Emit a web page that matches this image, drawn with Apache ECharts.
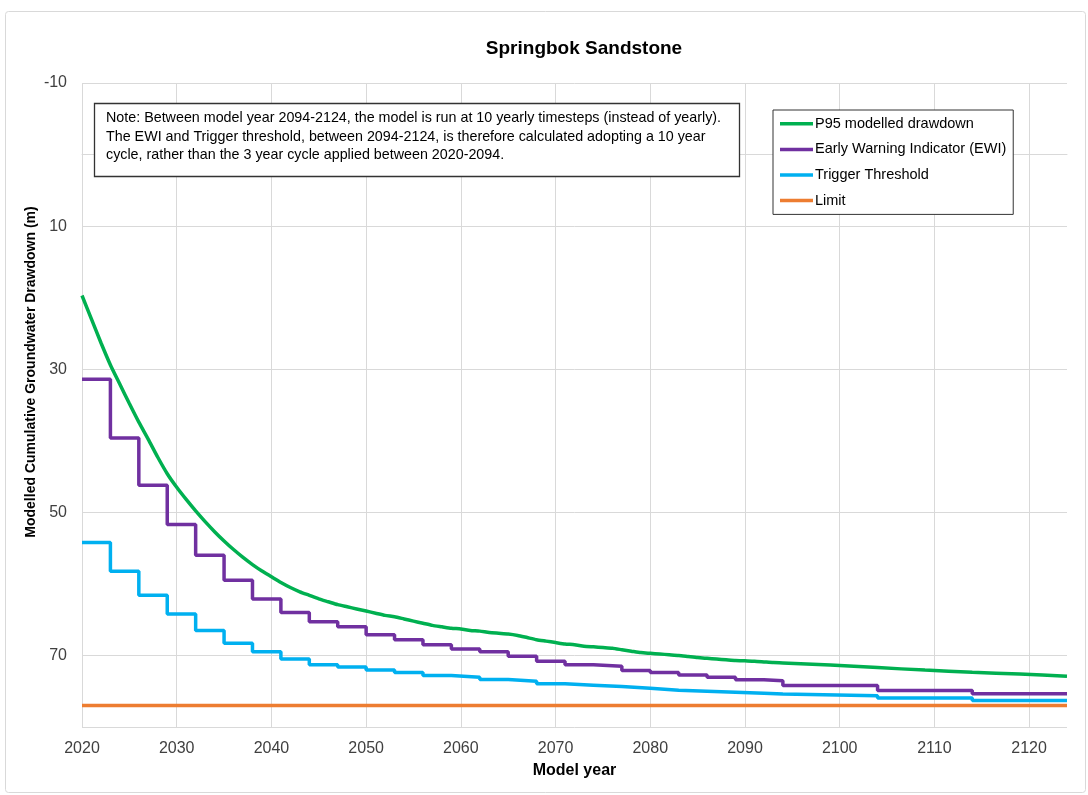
<!DOCTYPE html>
<html>
<head>
<meta charset="utf-8">
<script src="https://cdn.jsdelivr.net/npm/echarts@6/dist/echarts.min.js"></script>
<style>
html,body{margin:0;padding:0;background:#fff;}
#c{width:1088px;height:795px;}
</style>
</head>
<body>
<div id="c"></div>
<script>
// ---- Data ----
const p95Years = [2020,2021,2022,2023,2024,2025,2026,2027,2028,2029,2030,2031,2032,2033,2034,2035,2036,2037,2038,2039,2040,2041,2042,2043,2044,2045,2046,2047,2048,2049,2050,2051,2052,2053,2054,2055,2056,2057,2058,2059,2060,2061,2062,2063,2064,2065,2066,2067,2068,2069,2070,2071,2072,2073,2074,2075,2076,2077,2078,2079,2080,2081,2082,2083,2084,2085,2086,2087,2088,2089,2090,2091,2092,2093,2094,2099,2104,2109,2114,2119,2124];
const p95Values = [19.7,23.0,26.3,29.4,32.1,34.8,37.4,39.8,42.3,44.6,46.5,48.2,49.8,51.3,52.7,54.0,55.2,56.3,57.3,58.2,59.0,59.8,60.5,61.1,61.6,62.1,62.5,62.9,63.2,63.5,63.8,64.1,64.4,64.6,64.9,65.2,65.5,65.8,66.0,66.2,66.3,66.5,66.6,66.8,66.9,67.0,67.2,67.5,67.8,68.0,68.2,68.4,68.5,68.7,68.8,68.9,69.0,69.2,69.4,69.6,69.7,69.8,69.9,70.0,70.15,70.3,70.4,70.5,70.6,70.7,70.75,70.8,70.9,71.0,71.05,71.35,71.7,72.05,72.35,72.6,72.9];

const ewiYears = [2020,2023,2026,2029,2032,2035,2038,2041,2044,2047,2050,2053,2056,2059,2062,2065,2068,2071,2074,2077,2080,2083,2086,2089,2092,2094,2104,2114,2124];
const ewiValues = [31.4,39.6,46.2,51.7,56.0,59.5,62.1,64.0,65.3,66.0,67.1,67.8,68.5,69.1,69.5,70.1,70.8,71.3,71.5,72.1,72.4,72.75,73.05,73.4,73.55,74.2,74.9,75.35,75.35];

const trigYears = [2020,2023,2026,2029,2032,2035,2038,2041,2044,2047,2050,2053,2056,2059,2062,2065,2068,2071,2074,2077,2080,2083,2086,2089,2092,2094,2104,2114,2124];
const trigValues = [54.2,58.25,61.6,64.2,66.5,68.3,69.5,70.5,71.3,71.6,72.05,72.4,72.8,73.05,73.35,73.6,73.95,74.15,74.35,74.6,74.85,75.0,75.15,75.3,75.4,75.65,75.95,76.3,76.3];

const limitYears = [2020,2124];
const limitValues = [77.0,77.0];

const seriesNames = ['P95 modelled drawdown','Early Warning Indicator (EWI)','Trigger Threshold','Limit'];
const seriesColors = ['#00b050','#7030a0','#00b0f0','#ed7d31'];
const yTickLabels = [-10,10,30,50,70];
const noteLines = [
  'Note: Between model year 2094-2124, the model is run at 10 yearly timesteps (instead of yearly).',
  'The EWI and Trigger threshold, between 2094-2124, is therefore calculated adopting a 10 year',
  'cycle, rather than the 3 year cycle applied between 2020-2094.'
];

const zip = (xs, ys) => xs.map((x, i) => [x, ys[i]]);

const chart = echarts.init(document.getElementById('c'), null, {renderer: 'canvas'});
const font = '"Liberation Sans", Arial, sans-serif';

chart.setOption({
  backgroundColor: '#fff',
  animation: false,
  textStyle: {fontFamily: font},
  title: {
    text: 'Springbok Sandstone',
    left: 579,
    textAlign: 'center',
    top: 34,
    textStyle: {fontFamily: font, fontSize: 19, fontWeight: 'bold', color: '#000'}
  },
  grid: {left: 82, right: 21, top: 83, bottom: 68, containLabel: false},
  legend: {
    orient: 'vertical',
    left: 773,
    top: 110,
    padding: [1, 7, 1, 7],
    itemGap: 0,
    itemWidth: 33,
    itemHeight: 3.5,
    icon: 'rect',
    borderColor: '#333',
    borderWidth: 1,
    backgroundColor: '#fff',
    textStyle: {fontFamily: font, fontSize: 14.5, lineHeight: 25.6, color: '#000', padding: [0,0,0,-3]},
    data: seriesNames
  },
  xAxis: {
    type: 'value',
    min: 2020,
    max: 2124,
    interval: 10,
    name: 'Model year',
    nameLocation: 'middle',
    nameGap: 36,
    nameTextStyle: {fontFamily: font, fontSize: 16, fontWeight: 'bold', color: '#000'},
    axisLine: {show: true, lineStyle: {color: '#d9d9d9', width: 1}},
    axisTick: {show: false},
    axisLabel: {showMaxLabel: false, fontFamily: font, fontSize: 16, color: '#404040', margin: 14,
      formatter: v => String(v)},
    splitLine: {show: true, showMaxLine: false, lineStyle: {color: '#d9d9d9', width: 1}}
  },
  yAxis: {
    type: 'value',
    inverse: true,
    min: -10,
    max: 80,
    interval: 20,
    axisLine: {show: false},
    axisTick: {show: false},
    axisLabel: {showMaxLabel: false, fontFamily: font, fontSize: 16, color: '#404040', margin: 15,
      formatter: v => (yTickLabels.indexOf(v) >= 0 ? String(v) : '')},
    splitLine: {show: true, lineStyle: {color: '#d9d9d9', width: 1}}
  },
  series: [
    {name: seriesNames[0], type: 'line', data: zip(p95Years, p95Values), symbol: 'none', smooth: 0.2,
      lineStyle: {color: seriesColors[0], width: 3.5}, itemStyle: {color: seriesColors[0]}, z: 5},
    {name: seriesNames[1], type: 'line', step: 'end', data: zip(ewiYears, ewiValues), symbol: 'none',
      lineStyle: {color: seriesColors[1], width: 3.5}, itemStyle: {color: seriesColors[1]}, z: 4},
    {name: seriesNames[2], type: 'line', step: 'end', data: zip(trigYears, trigValues), symbol: 'none',
      lineStyle: {color: seriesColors[2], width: 3.5}, itemStyle: {color: seriesColors[2]}, z: 3},
    {name: seriesNames[3], type: 'line', data: zip(limitYears, limitValues), symbol: 'none',
      lineStyle: {color: seriesColors[3], width: 3.5}, itemStyle: {color: seriesColors[3]}, z: 2}
  ],
  graphic: [
    {type: 'rect', left: 3, top: 9, shape: {width: 1080, height: 781, r: 3},
      style: {fill: 'none', stroke: '#d9d9d9', lineWidth: 1}, silent: true, z: -1},
    {type: 'text', x: 31, y: 372, rotation: Math.PI / 2, z: 100,
      style: {text: 'Modelled Cumulative Groundwater Drawdown (m)', fontFamily: font, fontSize: 14,
        fontWeight: 'bold', fill: '#000', align: 'center', verticalAlign: 'middle'}},
    {type: 'rect', x: 94.5, y: 103.5, z: 100, shape: {x: 0, y: 0, width: 645, height: 73},
      style: {fill: '#fff', stroke: '#333', lineWidth: 1.3}},
    {type: 'text', x: 106, y: 109, z: 101,
      style: {text: noteLines.join('\n'), fontFamily: font, fontSize: 14.3, lineHeight: 18.5, fill: '#000'}}
  ]
});
</script>
</body>
</html>
